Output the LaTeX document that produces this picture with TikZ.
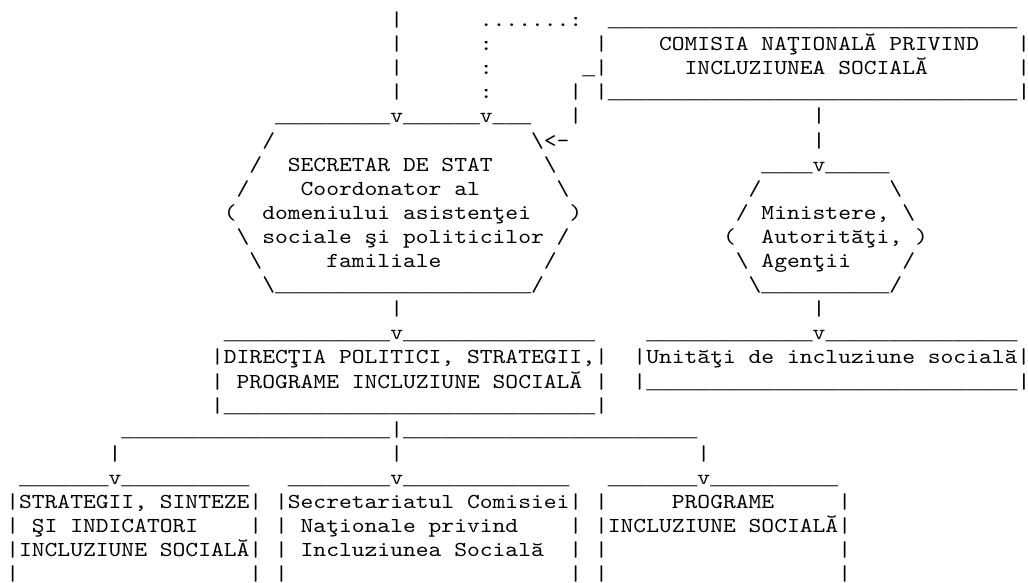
\documentclass[tikz,border=0pt]{standalone}
\usepackage{fontspec}
\newfontfamily\asciifont{lmmono10-regular.otf}[FakeStretch=1.1429]
\newfontfamily\linefont{Liberation Mono}
\newcommand{\unders}[1]{{\linefont\foreach \k in {1,...,#1}{\_}}}
\tikzset{chr/.style={anchor=base west, inner sep=0pt, outer sep=0pt, font=\asciifont\fontsize{16pt}{18pt}\selectfont}}

\begin{document}
\begin{tikzpicture}[x=9.6pt, y=-18.075pt]
\useasboundingbox (-4.7pt,1.8pt) rectangle (766.3pt,-434.7pt);

% top lines and commission box
\node[chr] (vlA1) at (30,1) {|};
\node[chr] (dots) at (37,1) {.......:};
\node[chr] (comTop) at (47,1) {\unders{32}};
\node[chr] (vlA2) at (30,2) {|};
\node[chr] (col2) at (37,2) {:};
\node[chr] (comL2) at (46,2) {|};
\node[chr] (comisia1) at (51,2) {COMISIA NAŢIONALĂ PRIVIND};
\node[chr] (comR2) at (79,2) {|};
\node[chr] (vlA3) at (30,3) {|};
\node[chr] (col3) at (37,3) {:};
\node[chr] (comL3) at (45,3) {\unders{1}|};
\node[chr] (comisia2) at (53,3) {INCLUZIUNEA SOCIALĂ};
\node[chr] (comR3) at (79,3) {|};
\node[chr] (vlA4) at (30,4) {|};
\node[chr] (col4) at (37,4) {:};
\node[chr] (vlB4) at (44,4) {|};
\node[chr] (comBot) at (46,4) {|\unders{32}|};

% secretar de stat and ministere
\node[chr] (secTop) at (21,5) {\unders{9}v\unders{6}v\unders{3}};
\node[chr] (vlB5) at (44,5) {|};
\node[chr] (vlC5) at (63,5) {|};
\node[chr] (secL6) at (20,6) {/};
\node[chr] (secR6) at (41,6) {\textbackslash<-};
\node[chr] (vlC6) at (63,6) {|};
\node[chr] (secL7) at (19,7) {/};
\node[chr] (secretar1) at (22,7) {SECRETAR DE STAT};
\node[chr] (secR7) at (42,7) {\textbackslash};
\node[chr] (minTop) at (59,7) {\unders{4}v\unders{5}};
\node[chr] (secL8) at (18,8) {/};
\node[chr] (secretar2) at (23,8) {Coordonator al};
\node[chr] (secR8) at (43,8) {\textbackslash};
\node[chr] (minL8) at (58,8) {/};
\node[chr] (minR8) at (69,8) {\textbackslash};
\node[chr] (secL9) at (17,9) {(};
\node[chr] (secretar3) at (20,9) {domeniului asistenţei};
\node[chr] (secR9) at (44,9) {)};
\node[chr] (minL9) at (57,9) {/};
\node[chr] (ministere1) at (59,9) {Ministere,};
\node[chr] (minR9) at (70,9) {\textbackslash};
\node[chr] (secL10) at (18,10) {\textbackslash};
\node[chr] (secretar4) at (20,10) {sociale şi politicilor};
\node[chr] (secR10) at (43,10) {/};
\node[chr] (minL10) at (56,10) {(};
\node[chr] (ministere2) at (59,10) {Autorităţi,};
\node[chr] (minR10) at (71,10) {)};
\node[chr] (secL11) at (19,11) {\textbackslash};
\node[chr] (secretar5) at (25,11) {familiale};
\node[chr] (secR11) at (42,11) {/};
\node[chr] (minL11) at (57,11) {\textbackslash};
\node[chr] (ministere3) at (59,11) {Agenţii};
\node[chr] (minR11) at (70,11) {/};
\node[chr] (secBot) at (20,12) {\textbackslash\unders{20}/};
\node[chr] (minBot) at (58,12) {\textbackslash\unders{10}/};
\node[chr] (vlD13) at (30,13) {|};
\node[chr] (vlE13) at (63,13) {|};

% directia and unitati
\node[chr] (dirTop) at (17,14) {\unders{13}v\unders{15}};
\node[chr] (uniTop) at (50,14) {\unders{13}v\unders{15}};
\node[chr] (directia1) at (16,15) {|DIRECŢIA POLITICI, STRATEGII,|};
\node[chr] (unitati) at (49,15) {|Unităţi de incluziune socială|};
\node[chr] (dirL16) at (16,16) {|};
\node[chr] (directia2) at (18,16) {PROGRAME INCLUZIUNE SOCIALĂ};
\node[chr] (dirR16) at (46,16) {|};
\node[chr] (uniBot) at (49,16) {|\unders{29}|};
\node[chr] (dirBot) at (16,17) {|\unders{29}|};

% split to the three services
\node[chr] (split) at (9,18) {\unders{21}|\unders{23}};
\node[chr] (vlF19) at (8,19) {|};
\node[chr] (vlG19) at (30,19) {|};
\node[chr] (vlH19) at (54,19) {|};
\node[chr] (strTop) at (1,20) {\unders{7}v\unders{10}};
\node[chr] (sctTop) at (22,20) {\unders{8}v\unders{13}};
\node[chr] (prgTop) at (47,20) {\unders{7}v\unders{10}};
\node[chr] (strategii1) at (0,21) {|STRATEGII, SINTEZE|};
\node[chr] (secretariat1) at (21,21) {|Secretariatul Comisiei|};
\node[chr] (prgL21) at (46,21) {|};
\node[chr] (programe1) at (52,21) {PROGRAME};
\node[chr] (prgR21) at (65,21) {|};
\node[chr] (strL22) at (0,22) {|};
\node[chr] (strategii2) at (2,22) {ŞI INDICATORI};
\node[chr] (strR22) at (19,22) {|};
\node[chr] (sctL22) at (21,22) {|};
\node[chr] (secretariat2) at (23,22) {Naţionale privind};
\node[chr] (sctR22) at (44,22) {|};
\node[chr] (programe2) at (46,22) {|INCLUZIUNE SOCIALĂ|};
\node[chr] (strategii3) at (0,23) {|INCLUZIUNE SOCIALĂ|};
\node[chr] (sctL23) at (21,23) {|};
\node[chr] (secretariat3) at (23,23) {Incluziunea Socială};
\node[chr] (sctR23) at (44,23) {|};
\node[chr] (prgL23) at (46,23) {|};
\node[chr] (prgR23) at (65,23) {|};
\node[chr] (strL24) at (0,24) {|};
\node[chr] (strR24) at (19,24) {|};
\node[chr] (sctL24) at (21,24) {|};
\node[chr] (sctR24) at (44,24) {|};
\node[chr] (prgL24) at (46,24) {|};
\node[chr] (prgR24) at (65,24) {|};

\end{tikzpicture}
\end{document}
